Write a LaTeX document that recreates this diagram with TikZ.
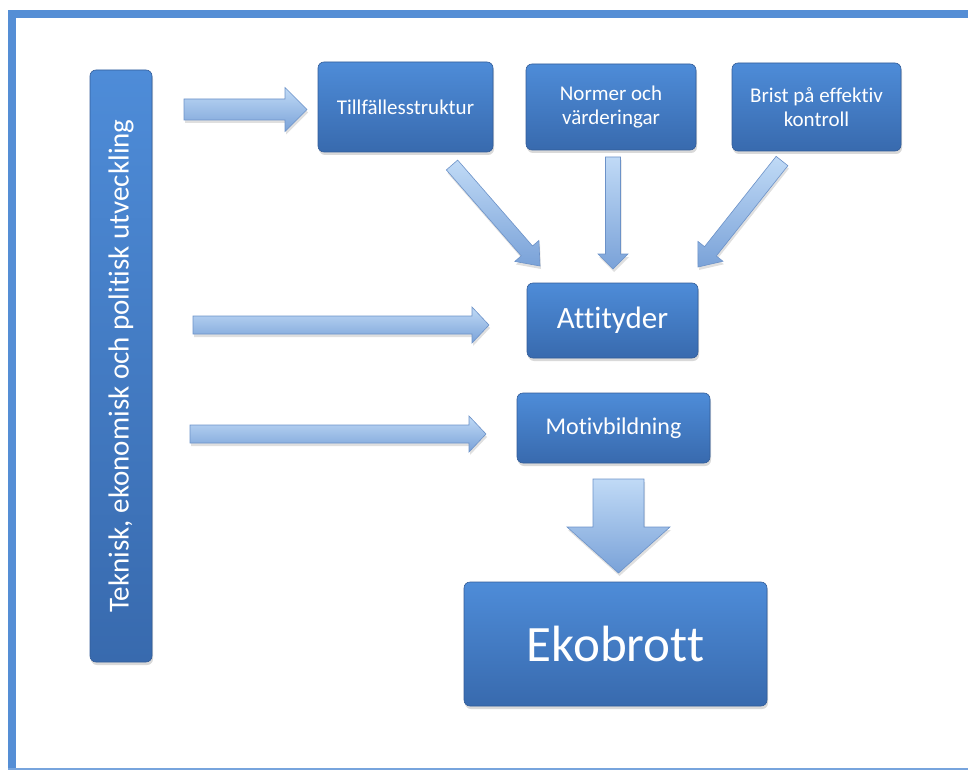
\documentclass[tikz,border=0pt]{standalone}
\usepackage{fontspec}
\setmainfont[Ligatures=NoCommon]{Carlito}
\usetikzlibrary{calc,shadows}

\definecolor{ramblue}{RGB}{85,142,213}
\definecolor{boxtop}{RGB}{78,140,216}
\definecolor{boxbot}{RGB}{56,106,174}
\definecolor{boxedge}{RGB}{50,92,152}
\definecolor{piltop}{RGB}{192,218,246}
\definecolor{pilbot}{RGB}{122,162,216}
\definecolor{piledge}{RGB}{108,146,200}

\tikzset{
  ruta/.style={rounded corners=6pt, draw=boxedge, line width=0.6pt,
    top color=boxtop, bottom color=boxbot, text=white, align=center,
    inner sep=0pt, drop shadow={opacity=0.3, shadow xshift=1pt, shadow yshift=-3pt}},
  liten/.style={font=\fontsize{21}{24}\selectfont},
  pil/.style={draw=piledge, line width=0.6pt, top color=piltop, bottom color=pilbot,
    drop shadow={opacity=0.25, shadow xshift=1pt, shadow yshift=-3pt}}
}

% fat arrow: start, tip, half shaft, half head, head length
\newcommand\storpil[5]{%
  \coordinate (pilbas) at ($(#2)!#5!(#1)$);
  \path[pil] ($(#1)!#3!90:(#2)$) -- ($(pilbas)!#3!90:(#2)$) -- ($(pilbas)!#4!90:(#2)$)
    -- (#2) -- ($(pilbas)!#4!-90:(#2)$) -- ($(pilbas)!#3!-90:(#2)$) -- ($(#1)!#3!-90:(#2)$) -- cycle;
}

\begin{document}
\begin{tikzpicture}[x=1pt,y=-1pt]
\useasboundingbox (0,0) rectangle (968,770);

% frame
\fill[ramblue] (8,10) rectangle (968,18);
\fill[ramblue] (8,10) rectangle (16,770);
\fill[ramblue!80] (8,768) rectangle (968,770);

% boxes
\node[ruta, rotate=90, minimum width=592pt, minimum height=62pt,
  font=\fontsize{29}{31}\selectfont] (utv) at (121,366)
  {Teknisk, ekonomisk och politisk utveckling};
\node[ruta, liten, minimum width=175pt, minimum height=90pt] (tillf) at (405.5,107)
  {Tillfällesstruktur};
\node[ruta, liten, minimum width=170pt, minimum height=86pt] (normer) at (611,107)
  {Normer och\\ värderingar};
\node[ruta, liten, minimum width=169pt, minimum height=88pt] (brist) at (816.5,107)
  {Brist på effektiv\\ kontroll};
\node[ruta, minimum width=171pt, minimum height=75pt,
  font=\fontsize{31}{34}\selectfont] (attityd) at (612.5,320.5) {Attityder};
\node[ruta, minimum width=193pt, minimum height=70pt,
  font=\fontsize{24}{27}\selectfont] (motiv) at (613.5,428) {Motivbildning};
\node[ruta, minimum width=303pt, minimum height=124pt,
  font=\fontsize{51}{54}\selectfont] (ekobrott) at (615.5,644) {Ekobrott};

% arrow ends
\coordinate (p1s) at (184,109.5);
\coordinate (p1e) at (307,109.5);
\coordinate (p2s) at (452,165);
\coordinate (p2e) at (540,266);
\coordinate (p3s) at (613,157);
\coordinate (p3e) at (613,269);
\coordinate (p4s) at (782,161);
\coordinate (p4e) at (698,267);
\coordinate (p5s) at (193,325);
\coordinate (p5e) at (489,325);
\coordinate (p6s) at (190,434);
\coordinate (p6e) at (486,434);
\coordinate (p7s) at (618.5,479);
\coordinate (p7e) at (618.5,573);

% arrows
\storpil{p1s}{p1e}{10.5pt}{22pt}{22pt}
\storpil{p2s}{p2e}{7.5pt}{16pt}{20pt}
\storpil{p3s}{p3e}{7.5pt}{15pt}{15pt}
\storpil{p4s}{p4e}{7.5pt}{16pt}{20pt}
\storpil{p5s}{p5e}{9pt}{18pt}{17pt}
\storpil{p6s}{p6e}{9pt}{18pt}{17pt}
\storpil{p7s}{p7e}{25.5pt}{51.5pt}{46pt}

\end{tikzpicture}
\end{document}
